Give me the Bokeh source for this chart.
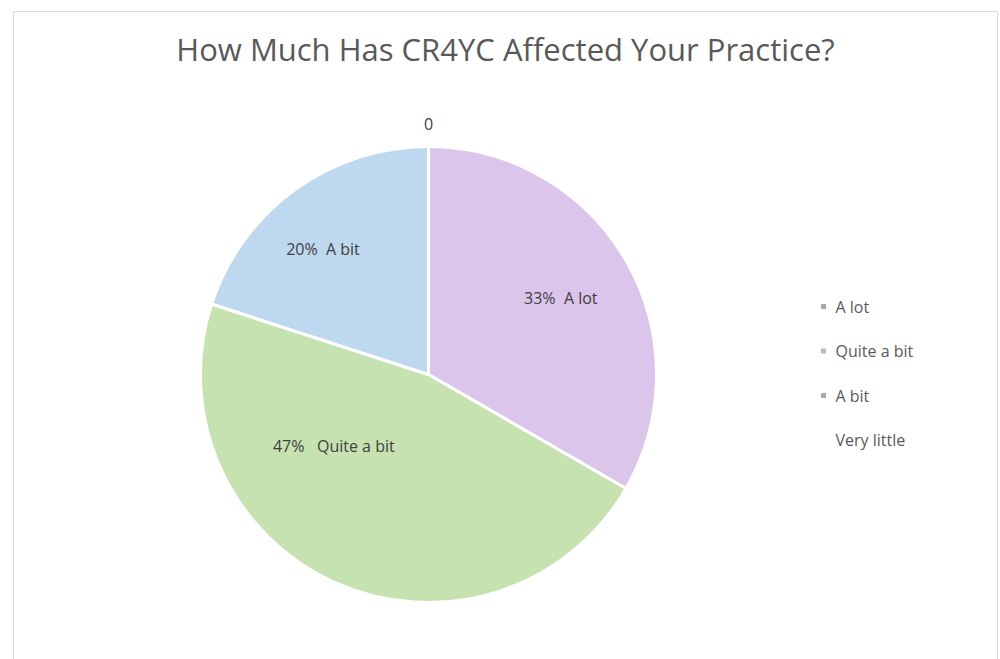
import numpy as np
from bokeh.plotting import figure
from bokeh.models import Range1d, ColumnDataSource
from bokeh.core.properties import value
from bokeh.embed import file_html
from bokeh.resources import INLINE

# ---- data ----
title = "How Much Has CR4YC Affected Your Practice?"
categories = ["A lot", "Quite a bit", "A bit", "Very little"]
counts = [5, 7, 3, 0]
colors = ["#dbc5ea", "#c6e2b0", "#bed8ef", "#f4d9c4"]
legend_marker_colors = ["#a9a9a9", "#b9b9b9", "#a9a9a9", "#ffffff"]

# ---- layout ----
W, H = 1000, 659
cx, cy_px, R = 428, 374, 228
FONT = "Open Sans"
NBSP = "\u00a0"

p = figure(width=W, height=H, x_range=Range1d(0, W), y_range=Range1d(0, H),
           output_backend="svg", toolbar_location=None, min_border=0)
p.axis.visible = False
p.grid.visible = False
p.outline_line_color = None
p.background_fill_color = "white"
p.border_fill_color = "white"

def Y(ypx):
    return H - ypx

# chart border
p.quad(left=[13], right=[997], top=[Y(11)], bottom=[Y(670)], fill_color=None,
       line_color="#d9d9d9", line_width=1)

# title
p.text(x=[505], y=[Y(48)], text=[title], text_font=value(FONT), text_font_size="31px",
       text_color="#595959", text_align="center", text_baseline="middle")

vals = np.array(counts, dtype=float)
frac = vals / vals.sum()
cum = np.concatenate([[0], np.cumsum(frac)])
start = np.pi / 2 - cum[:-1] * 2 * np.pi
end = np.pi / 2 - cum[1:] * 2 * np.pi

nz = vals > 0
src = ColumnDataSource(dict(start=start[nz], end=end[nz],
                            color=[c for c, k in zip(colors, nz) if k]))
p.wedge(x=cx, y=Y(cy_px), radius=R, start_angle="start", end_angle="end",
        direction="clock", fill_color="color", line_color="white", line_width=3,
        source=src)

# data labels: (radius factor, angle from top clockwise in degrees) per slice
label_pos = [(0.67, 60), (0.52, 233), (0.72, -40), (1.1, 0)]
lx, ly, lt = [], [], []
for i, (cat, f) in enumerate(zip(categories, frac)):
    rf, ang = label_pos[i]
    a = np.radians(ang)
    lx.append(cx + rf * R * np.sin(a))
    ly.append(Y(cy_px - rf * R * np.cos(a)))
    if vals[i] > 0:
        gap = NBSP * (3 if cat == "Quite a bit" else 2)
        lt.append(f"{round(f*100):.0f}%{gap}{cat}")
    else:
        lt.append("0")
p.text(x=lx, y=ly, text=lt, text_font=value(FONT), text_font_size="16px",
       text_color="#404040", text_align="center", text_baseline="middle")

# legend
leg_x, leg_y0, leg_dy = 823, 306, 44.5
lgx = [leg_x] * len(categories)
lgy = [Y(leg_y0 + i * leg_dy) for i in range(len(categories))]
p.scatter(x=lgx, y=lgy, marker="square", size=5, fill_color=legend_marker_colors,
          line_color=None)
p.text(x=[leg_x + 12] * len(categories), y=lgy, text=categories,
       text_font=value(FONT), text_font_size="16px", text_color="#595959",
       text_align="left", text_baseline="middle")

open("out.html", "w").write(file_html(p, INLINE))
